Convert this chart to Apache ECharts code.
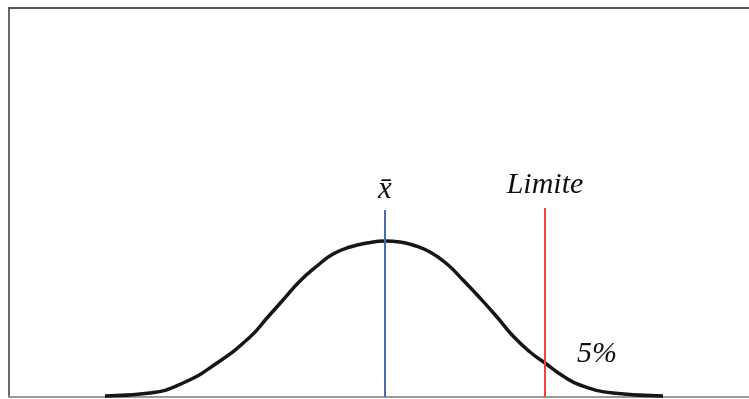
<!DOCTYPE html>
<html>
<head>
<meta charset="utf-8">
<script src="https://cdn.jsdelivr.net/npm/echarts@6/dist/echarts.min.js"></script>
<style>
  html, body { margin: 0; padding: 0; background: #fff; }
  #main { width: 749px; height: 399px; }
</style>
</head>
<body>
<div id="main"></div>
<script>
// curve: x position and height above the baseline
var curveX = [105, 150, 183, 217, 250, 267, 283, 300, 317, 333, 350, 367, 385,
              400, 413, 430, 447, 463, 480, 497, 513, 530, 545, 563, 580, 613, 663];
var curveY = [1, 4, 14, 34, 60, 79, 97, 116, 131, 143, 150, 154, 156,
              155, 152, 145, 133, 117, 99, 80, 61, 45, 34, 21, 12, 4, 1];

var meanX = 385;       // x barre
var limitX = 545;      // Limite
var meanTop = 187;
var limitTop = 189;
var tailLabel = '5%';
var tailPos = [597, 43];

var curveData = [];
for (var i = 0; i < curveX.length; i++) {
	curveData.push([curveX[i], curveY[i]]);
}

var myChart = echarts.init(document.getElementById('main'));

var hidden = { show: false };

var option = {
	animation: false,
	grid: {
		left: 9,
		top: 8,
		right: 0,
		bottom: 2
	},
	xAxis: [{
		type: 'value',
		min: 9,
		max: 749,
		position: 'bottom',
		axisLine: { show: true, lineStyle: { color: '#9a9a9a', width: 2 } },
		axisTick: hidden,
		axisLabel: hidden,
		splitLine: hidden
	}, {
		type: 'value',
		min: 9,
		max: 749,
		position: 'top',
		axisLine: { show: true, lineStyle: { color: '#555', width: 2 } },
		axisTick: hidden,
		axisLabel: hidden,
		splitLine: hidden
	}],
	yAxis: {
		type: 'value',
		min: 0,
		max: 389,
		axisLine: { show: true, lineStyle: { color: '#6a6a6a', width: 2 } },
		axisTick: hidden,
		axisLabel: hidden,
		splitLine: hidden
	},
	series: [{
		type: 'line',
		data: curveData,
		smooth: 0.5,
		symbol: 'none',
		lineStyle: { color: '#161616', width: 3.5 },
		z: 3,
		markLine: {
			silent: true,
			symbol: 'none',
			data: [
				[{
					coord: [meanX, 0],
					lineStyle: { color: '#4a6ea8', width: 2, type: 'solid' },
					label: {
						show: true,
						position: 'end',
						formatter: 'x\u0304',
						distance: 5,
						fontSize: 31,
						fontFamily: 'Liberation Serif',
						fontStyle: 'italic',
						color: '#111'
					}
				}, { coord: [meanX, meanTop] }],
				[{
					coord: [limitX, 0],
					lineStyle: { color: '#e8463f', width: 2, type: 'solid' },
					label: {
						show: true,
						position: 'end',
						formatter: 'Limite',
						distance: 8,
						fontSize: 30,
						fontFamily: 'Liberation Serif',
						fontStyle: 'italic',
						color: '#111'
					}
				}, { coord: [limitX, limitTop] }]
			]
		},
		markPoint: {
			silent: true,
			symbol: 'circle',
			symbolSize: 0,
			data: [{
				coord: tailPos,
				label: {
					show: true,
					position: 'inside',
					formatter: tailLabel,
					fontSize: 30,
					fontFamily: 'Liberation Serif',
					fontStyle: 'italic',
					color: '#111'
				}
			}]
		}
	}]
};

myChart.setOption(option);
</script>
</body>
</html>
